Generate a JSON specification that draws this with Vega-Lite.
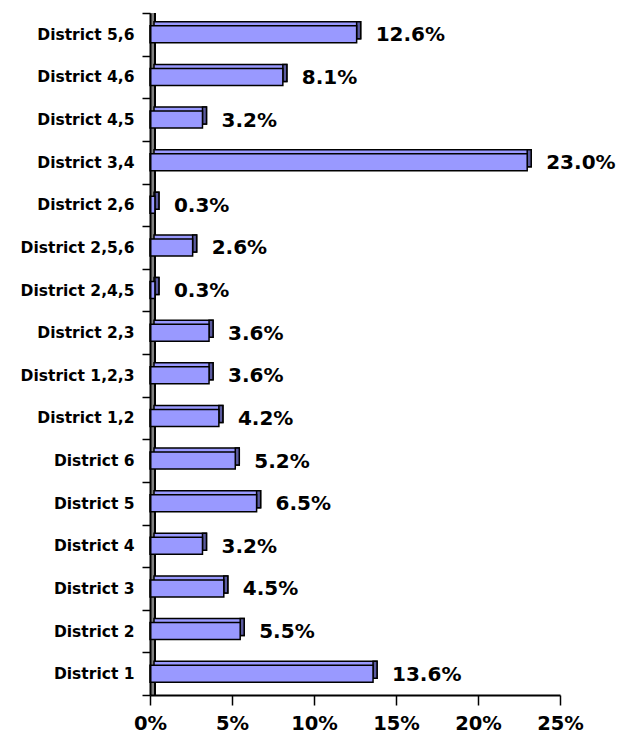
{
  "$schema": "https://vega.github.io/schema/vega-lite/v6.json",
  "autosize": {"type": "none"},
  "padding": {"left": 150, "top": 13, "right": 78, "bottom": 39},
  "width": 410,
  "height": 682,
  "background": "white",
  "config": {"view": {"stroke": null}},
  "data": {
    "values": [
      {"district": "District 5,6", "share": 0.126},
      {"district": "District 4,6", "share": 0.081},
      {"district": "District 4,5", "share": 0.032},
      {"district": "District 3,4", "share": 0.230},
      {"district": "District 2,6", "share": 0.003},
      {"district": "District 2,5,6", "share": 0.026},
      {"district": "District 2,4,5", "share": 0.003},
      {"district": "District 2,3", "share": 0.036},
      {"district": "District 1,2,3", "share": 0.036},
      {"district": "District 1,2", "share": 0.042},
      {"district": "District 6", "share": 0.052},
      {"district": "District 5", "share": 0.065},
      {"district": "District 4", "share": 0.032},
      {"district": "District 3", "share": 0.045},
      {"district": "District 2", "share": 0.055},
      {"district": "District 1", "share": 0.136}
    ]
  },
  "encoding": {
    "y": {
      "field": "district",
      "type": "nominal",
      "sort": null,
      "scale": {"paddingInner": 0, "paddingOuter": 0},
      "axis": {
        "title": null,
        "tickBand": "extent",
        "labelFont": "DejaVu Sans",
        "labelFontWeight": "bold",
        "labelFontSize": 15.5,
        "labelColor": "black",
        "labelPadding": 8,
        "tickSize": 8,
        "tickColor": "black",
        "tickWidth": 1.5,
        "domainColor": "black",
        "domainWidth": 2,
        "zindex": 1
      }
    }
  },
  "layer": [
    {
      "mark": {"type": "rule", "stroke": "#808080", "strokeWidth": 4, "xOffset": 2.5},
      "encoding": {"x": {"datum": 0, "type": "quantitative"}, "y": null}
    },
    {
      "mark": {"type": "rule", "stroke": "black", "strokeWidth": 1, "xOffset": 5},
      "encoding": {"x": {"datum": 0, "type": "quantitative"}, "y": null}
    },
    {
      "mark": {"type": "bar", "size": 17, "xOffset": 4, "x2Offset": 4, "yOffset": -4, "fill": "#9999FF", "stroke": "black", "strokeWidth": 1.5},
      "encoding": {
        "x": {"field": "share", "type": "quantitative", "scale": {"domain": [0, 0.25], "nice": false}}
      }
    },
    {
      "mark": {"type": "bar", "size": 17, "x2Offset": 4, "yOffset": -4, "fill": "#5B5BA0", "stroke": "black", "strokeWidth": 1.5},
      "encoding": {
        "x": {"field": "share", "type": "quantitative"},
        "x2": {"field": "share"}
      }
    },
    {
      "mark": {"type": "bar", "size": 17, "fill": "#9999FF", "stroke": "black", "strokeWidth": 1.5},
      "encoding": {
        "x": {
          "field": "share",
          "type": "quantitative",
          "axis": {
            "title": null,
            "format": "%",
            "values": [0, 0.05, 0.1, 0.15, 0.2, 0.25],
            "grid": false,
            "labelFont": "DejaVu Sans",
            "labelFontWeight": "bold",
            "labelFontSize": 19.5,
            "labelColor": "black",
            "labelPadding": 9,
            "labelFlush": false,
            "tickSize": 10,
            "tickColor": "black",
            "tickWidth": 1.5,
            "domainColor": "black",
            "domainWidth": 2,
            "zindex": 1
          }
        }
      }
    },
    {
      "mark": {"type": "text", "align": "left", "baseline": "middle", "dx": 19, "dy": 1, "font": "DejaVu Sans", "fontWeight": "bold", "fontSize": 20, "color": "black"},
      "encoding": {
        "x": {"field": "share", "type": "quantitative"},
        "text": {"field": "share", "type": "quantitative", "format": ".1%"}
      }
    }
  ]
}
